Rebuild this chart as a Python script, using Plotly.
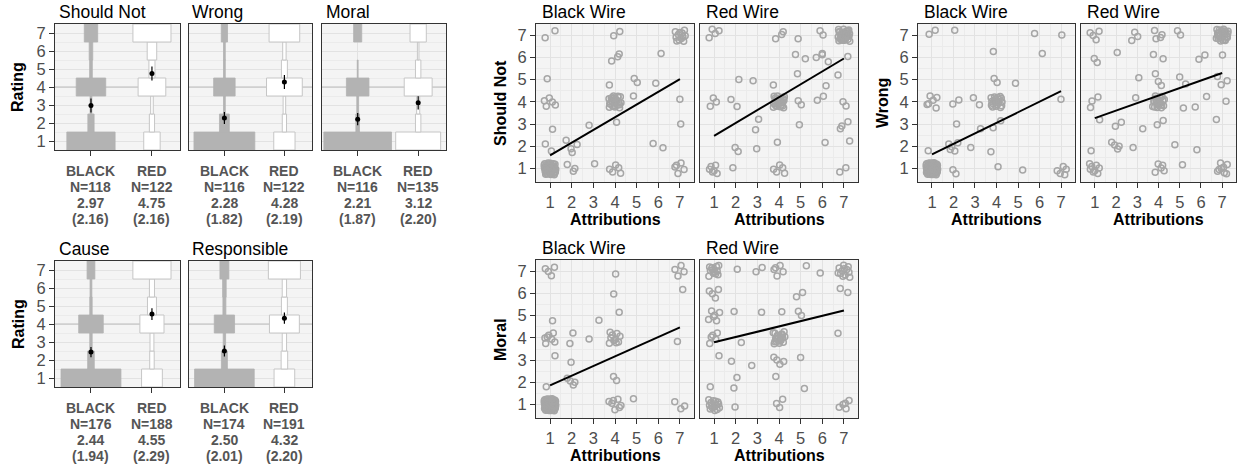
import plotly.graph_objects as go

W, H = 1238, 467
FONT = "Liberation Sans, Arial, sans-serif"

# ---------------- data: rating distributions (left) ----------------
ratings = [1, 2, 3, 4, 5, 6, 7]
measures = ["Should Not", "Wrong", "Moral", "Cause", "Responsible"]
conditions = ["BLACK", "RED"]

black_counts = [
    [54, 7, 2, 33, 3, 4, 15],     # Should Not
    [68, 11, 2, 24, 2, 2, 7],     # Wrong
    [75, 4, 2, 25, 1, 0, 9],      # Moral
    [100, 11, 4, 41, 4, 3, 13],   # Cause
    [100, 10, 4, 34, 5, 6, 15],   # Responsible
]
red_counts = [
    [19, 6, 3, 32, 7, 11, 44],
    [25, 5, 3, 42, 7, 4, 36],
    [58, 7, 4, 36, 7, 2, 21],
    [37, 8, 7, 43, 16, 9, 68],
    [38, 12, 8, 55, 11, 8, 59],
]
n_black = [118, 116, 116, 176, 174]
n_red = [122, 122, 135, 188, 191]
mean_black = [2.97, 2.28, 2.21, 2.44, 2.50]
mean_red = [4.75, 4.28, 3.12, 4.55, 4.32]
sd_black = [2.16, 1.82, 1.87, 1.94, 2.01]
sd_red = [2.16, 2.19, 2.20, 2.29, 2.20]

# ---------------- data: attribution scatter (right) ----------------
attr_ticks = [1, 2, 3, 4, 5, 6, 7]
scatter_rows = ["Should Not", "Wrong", "Moral"]
wires = ["Black Wire", "Red Wire"]

sn_black_x = [1, 1, 1, 1, 1, 1, 2, 2, 3, 3, 4, 4, 4, 4, 4, 4, 5, 5, 6, 6, 6, 7, 7, 7, 7]
sn_black_y = [1, 4, 7, 5, 3, 2, 1, 2, 1, 3, 1, 4, 3, 5, 6, 7, 5, 4, 2, 5, 6, 1, 7, 4, 3]
sn_black_n = [40, 5, 2, 1, 1, 2, 3, 4, 1, 1, 5, 25, 1, 1, 3, 2, 2, 1, 2, 1, 1, 5, 12, 1, 1]

sn_red_x = [1, 1, 1, 2, 2, 2, 2, 3, 3, 3, 4, 4, 4, 4, 4, 5, 5, 5, 5, 5, 6, 6, 6, 6, 6, 7, 7, 7, 7, 7, 7, 7]
sn_red_y = [1, 4, 7, 1, 2, 4, 5, 2, 3, 5, 1, 2, 4, 5, 7, 3, 4, 5, 6, 7, 2, 4, 5, 6, 7, 1, 2, 3, 4, 5, 6, 7]
sn_red_n = [6, 3, 4, 1, 2, 2, 1, 1, 2, 1, 5, 1, 25, 1, 3, 1, 2, 1, 2, 1, 1, 2, 1, 4, 2, 2, 1, 3, 2, 1, 1, 32]

wr_black_x = [1, 1, 1, 1, 2, 2, 2, 2, 2, 3, 3, 3, 4, 4, 4, 4, 4, 4, 5, 5, 6, 6, 7, 7, 7]
wr_black_y = [1, 2, 4, 7, 1, 2, 3, 4, 7, 2, 3, 4, 1, 2, 3, 4, 5, 6, 1, 5, 6, 7, 1, 4, 7]
wr_black_n = [55, 1, 6, 2, 2, 5, 1, 2, 1, 1, 1, 2, 1, 1, 2, 20, 2, 1, 1, 1, 1, 1, 5, 1, 1]

wr_red_x = [1, 1, 1, 1, 1, 1, 2, 2, 2, 3, 3, 3, 3, 3, 4, 4, 4, 4, 4, 4, 5, 5, 5, 5, 5, 6, 6, 6, 7, 7, 7, 7, 7, 7]
wr_red_y = [1, 2, 3, 4, 6, 7, 2, 3, 6, 2, 3, 4, 5, 7, 1, 3, 4, 5, 6, 7, 1, 2, 4, 5, 7, 2, 4, 6, 1, 3, 4, 5, 6, 7]
wr_red_n = [8, 1, 1, 3, 2, 4, 4, 2, 1, 1, 1, 1, 1, 3, 5, 2, 22, 3, 2, 4, 1, 1, 1, 2, 2, 1, 2, 2, 8, 1, 1, 3, 1, 25]

mo_black_x = [1, 1, 1, 1, 1, 1, 2, 2, 2, 3, 3, 4, 4, 4, 4, 4, 4, 5, 7, 7, 7, 7]
mo_black_y = [1, 2, 3, 4, 5, 7, 2, 3, 4, 4, 5, 1, 2, 4, 5, 6, 7, 1, 1, 4, 6, 7]
mo_black_n = [60, 1, 1, 7, 1, 4, 4, 1, 2, 1, 1, 7, 2, 10, 1, 1, 1, 1, 3, 1, 1, 4]

mo_red_x = [1, 1, 1, 1, 1, 1, 1, 2, 2, 2, 2, 2, 2, 3, 3, 3, 4, 4, 4, 4, 4, 4, 5, 5, 5, 5, 5, 6, 7, 7, 7, 7]
mo_red_y = [1, 2, 3, 4, 5, 6, 7, 1, 2, 3, 4, 5, 7, 3, 5, 7, 1, 2, 3, 4, 5, 7, 2, 3, 5, 6, 7, 7, 1, 4, 6, 7]
mo_red_n = [15, 1, 1, 5, 6, 4, 12, 1, 2, 1, 1, 1, 1, 1, 1, 2, 3, 1, 4, 20, 1, 5, 1, 1, 2, 2, 1, 1, 5, 1, 2, 12]

# fitted regression line values at attribution = 1 and attribution = 7
fit_at_1 = [1.60, 2.47, 1.64, 3.27, 1.87, 3.80]
fit_at_7 = [5.02, 5.95, 4.48, 5.30, 4.47, 5.23]

# ---------------- styling / layout ----------------
GRAY_FILL = "#B3B3B3"
WHITE_LINE = "#C6C6C6"
PT_GRAY = "#A6A6A6"
BG = "#F4F4F4"
GRID = "#E2E2E2"
GRID_MINOR = "#EBEBEB"
BORDER = "#333333"
TICKTXT = "#4D4D4D"

left_boxes = [(55, 180, 24, 150), (189, 312, 24, 150), (322, 446, 24, 150),
              (55, 180, 261, 387), (189, 312, 261, 387)]
left_title_pos = [(57, 12), (190, 12), (324, 12), (57, 249), (190, 249)]
left_label_rows = [[171, 187, 203, 219]] * 3 + [[408, 424, 440, 456]] * 2
scatter_boxes = [(536, 694, 24, 182), (700, 858, 24, 182),
                 (918, 1075, 24, 182), (1081, 1236, 24, 182),
                 (536, 694, 260, 418), (700, 858, 260, 418)]
scatter_sets = [(sn_black_x, sn_black_y, sn_black_n), (sn_red_x, sn_red_y, sn_red_n),
                (wr_black_x, wr_black_y, wr_black_n), (wr_red_x, wr_red_y, wr_red_n),
                (mo_black_x, mo_black_y, mo_black_n), (mo_red_x, mo_red_y, mo_red_n)]

WIDTH_SCALE = 1.73
LEFT_XR = [0.41, 2.46]
LEFT_YR = [0.5, 7.5]
SC_XR = [0.35, 7.65]
SC_YR = [0.4, 7.5]


def halton(i, b):
    f, r = 1.0, 0.0
    while i > 0:
        f /= b
        r += f * (i % b)
        i //= b
    return r


def jitter(cx, cy, cn, amp=0.28):
    xs, ys = [], []
    for j, (x, y, n) in enumerate(zip(cx, cy, cn)):
        off = 1 + 11 * j
        for k in range(n):
            xs.append(x + (halton(off + k, 2) - 0.5) * 2 * amp)
            ys.append(y + (halton(off + k, 3) - 0.5) * 2 * amp)
    return xs, ys


def px(x):
    return x / W


def py(y):
    return 1 - y / H


fig = go.Figure()
layout = {}
shapes = []
annotations = []


def ax_names(idx):
    s = "" if idx == 1 else str(idx)
    return "x" + s, "y" + s, "xaxis" + s, "yaxis" + s


tickfont = dict(family=FONT, size=16.5, color=TICKTXT)
halves = [1.5, 2.5, 3.5, 4.5, 5.5, 6.5]

# ---------- left panels ----------
for i in range(5):
    idx = i + 1
    xa, ya, xk, yk = ax_names(idx)
    x0, x1, y0, y1 = left_boxes[i]
    for c, (counts, n, fill, line) in enumerate([
            (black_counts[i], n_black[i], GRAY_FILL, GRAY_FILL),
            (red_counts[i], n_red[i], "white", WHITE_LINE)]):
        ys = [r for r, k in zip(ratings, counts) if k > 0]
        ws = [WIDTH_SCALE * k / n for k in counts if k > 0]
        bases = [(c + 1) - w / 2 for w in ws]
        fig.add_trace(go.Bar(orientation="h", y=ys, x=ws, base=bases, width=1,
                             marker=dict(color=fill, line=dict(color=line, width=0.8 if c == 0 else 1)),
                             xaxis=xa, yaxis=ya, hoverinfo="skip", showlegend=False))
    means = [mean_black[i], mean_red[i]]
    cis = [1.96 * sd_black[i] / n_black[i] ** 0.5, 1.96 * sd_red[i] / n_red[i] ** 0.5]
    fig.add_trace(go.Scatter(x=[1, 2], y=means, mode="markers",
                             marker=dict(color="black", size=5),
                             error_y=dict(type="data", array=cis, color="black", thickness=1.2, width=0),
                             xaxis=xa, yaxis=ya, hoverinfo="skip", showlegend=False))
    first_col = i in (0, 3)
    layout[xk] = dict(domain=[px(x0), px(x1)], range=LEFT_XR, anchor=ya,
                      tickvals=[1, 2], showticklabels=False, ticks="outside", ticklen=5,
                      tickwidth=1.2, tickcolor=BORDER, showgrid=True, gridcolor=GRID,
                      showline=True, mirror=True, linecolor=BORDER, linewidth=1, zeroline=False)
    layout[yk] = dict(domain=[py(y1), py(y0)], range=LEFT_YR, anchor=xa,
                      tickvals=ratings, showticklabels=first_col,
                      ticks="outside" if first_col else "", ticklen=5, tickwidth=1.2,
                      tickcolor=BORDER, tickfont=tickfont, showgrid=True, gridcolor=GRID,
                      minor=dict(tickvals=halves, showgrid=True, gridcolor=GRID_MINOR, ticks=""),
                      showline=True, mirror=True, linecolor=BORDER, linewidth=1, zeroline=False)
    shapes.append(dict(type="line", xref=xa, yref=ya, x0=LEFT_XR[0], x1=LEFT_XR[1], y0=4, y1=4,
                       line=dict(color="#BDBDBD", width=1), layer="between"))
    tx, ty = left_title_pos[i]
    annotations.append(dict(text=measures[i], x=px(tx), y=py(ty), xref="paper", yref="paper",
                            xanchor="left", yanchor="middle", showarrow=False,
                            font=dict(family=FONT, size=17.5, color="black")))
    for c in range(2):
        lines = [conditions[c],
                 "N=%d" % (n_black[i] if c == 0 else n_red[i]),
                 "%.2f" % (mean_black[i] if c == 0 else mean_red[i]),
                 "(%.2f)" % (sd_black[i] if c == 0 else sd_red[i])]
        for txt, ly in zip(lines, left_label_rows[i]):
            annotations.append(dict(text="<b>%s</b>" % txt, x=c + 1, y=py(ly), xref=xa, yref="paper",
                                    xanchor="center", yanchor="middle", showarrow=False,
                                    font=dict(family=FONT, size=14, color="#555555")))

for yc in (87, 324):
    annotations.append(dict(text="<b>Rating</b>", x=px(18), y=py(yc), xref="paper", yref="paper",
                            textangle=-90, xanchor="center", yanchor="middle", showarrow=False,
                            font=dict(family=FONT, size=16, color="black")))

# ---------- scatter panels ----------
for j in range(6):
    idx = 6 + j
    xa, ya, xk, yk = ax_names(idx)
    x0, x1, y0, y1 = scatter_boxes[j]
    cx, cy, cn = scatter_sets[j]
    xs, ys = jitter(cx, cy, cn)
    fig.add_trace(go.Scatter(x=xs, y=ys, mode="markers",
                             marker=dict(symbol="circle-open", size=6, color=PT_GRAY,
                                         line=dict(width=1.5, color=PT_GRAY)),
                             xaxis=xa, yaxis=ya, hoverinfo="skip", showlegend=False))
    fig.add_trace(go.Scatter(x=[1, 7], y=[fit_at_1[j], fit_at_7[j]], mode="lines",
                             line=dict(color="black", width=2),
                             xaxis=xa, yaxis=ya, hoverinfo="skip", showlegend=False))
    first_col = j % 2 == 0
    layout[xk] = dict(domain=[px(x0), px(x1)], range=SC_XR, anchor=ya,
                      tickvals=attr_ticks, ticks="outside", ticklen=5, tickwidth=1.2,
                      tickcolor=BORDER, tickfont=tickfont, showgrid=True, gridcolor=GRID,
                      minor=dict(tickvals=halves, showgrid=True, gridcolor=GRID_MINOR, ticks=""),
                      showline=True, mirror=True, linecolor=BORDER, linewidth=1, zeroline=False)
    layout[yk] = dict(domain=[py(y1), py(y0)], range=SC_YR, anchor=xa,
                      tickvals=attr_ticks, showticklabels=first_col,
                      ticks="outside" if first_col else "", ticklen=5, tickwidth=1.2,
                      tickcolor=BORDER, tickfont=tickfont, showgrid=True, gridcolor=GRID,
                      minor=dict(tickvals=halves, showgrid=True, gridcolor=GRID_MINOR, ticks=""),
                      showline=True, mirror=True, linecolor=BORDER, linewidth=1, zeroline=False)
    annotations.append(dict(text=wires[j % 2], x=px(x0 + 4), y=py(y0 - 12), xref="paper", yref="paper",
                            xanchor="left", yanchor="middle", showarrow=False,
                            font=dict(family=FONT, size=17.5, color="black")))
    annotations.append(dict(text="<b>Attributions</b>", x=px((x0 + x1) / 2), y=py(y1 + 37),
                            xref="paper", yref="paper", xanchor="center", yanchor="middle",
                            showarrow=False, font=dict(family=FONT, size=16, color="black")))
    if first_col:
        annotations.append(dict(text="<b>%s</b>" % scatter_rows[j // 2], x=px(x0 - 36),
                                y=py((y0 + y1) / 2), xref="paper", yref="paper", textangle=-90,
                                xanchor="center", yanchor="middle", showarrow=False,
                                font=dict(family=FONT, size=16, color="black")))

fig.update_layout(
    width=W, height=H, margin=dict(l=0, r=0, t=0, b=0),
    paper_bgcolor="white", plot_bgcolor=BG, barmode="overlay",
    font=dict(family=FONT), showlegend=False,
    shapes=shapes, annotations=annotations, **layout)

fig.write_html("out.html")
